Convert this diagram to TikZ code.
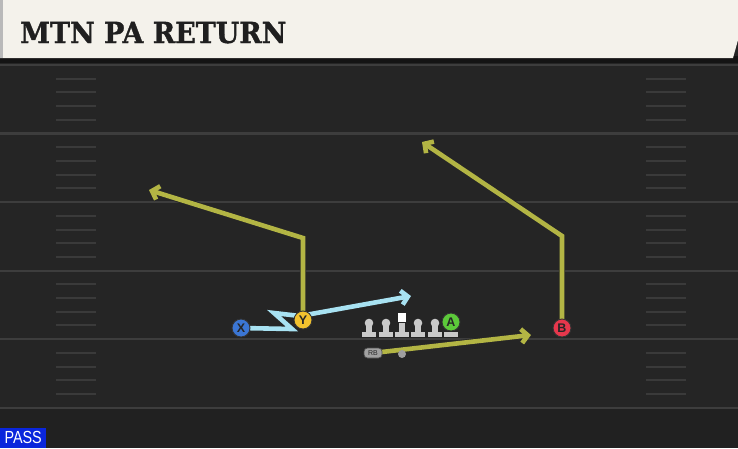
\documentclass[tikz,border=0pt]{standalone}
\usepackage{fontspec}
\setmainfont{Liberation Sans}
\newfontfamily\titlefont[FakeBold=1.2]{DejaVu Serif}
\usetikzlibrary{arrows.meta}
\definecolor{fieldbg}{HTML}{252525}
\definecolor{fieldbot}{HTML}{212121}
\definecolor{headerbg}{HTML}{F4F2EB}
\definecolor{yardc}{HTML}{3D3D3D}
\definecolor{hashc}{HTML}{3A3A3A}
\definecolor{olive}{HTML}{B3B544}
\definecolor{skyc}{HTML}{A8E2F2}
\definecolor{xblue}{HTML}{3B76D4}
\definecolor{yyellow}{HTML}{F2C22E}
\definecolor{bred}{HTML}{E6374C}
\definecolor{agreen}{HTML}{5CC93A}
\definecolor{lgray}{HTML}{C9C9C9}
\definecolor{passblue}{HTML}{0A26DC}
\tikzset{
  yardline/.style={draw=yardc, line width=2.2pt},
  hashline/.style={draw=hashc, line width=2pt},
  routeback/.style={draw=black!85, line width=6.4pt, -{Straight Barb[length=6.5pt,width=14pt]}},
  olivroute/.style={draw=olive, line width=4.6pt, -{Straight Barb[length=6.5pt,width=14pt]}},
  skyroute/.style={draw=skyc, line width=4.6pt, -{Straight Barb[length=6.5pt,width=14pt]}},
  player/.style={circle, draw=black!80, line width=0.9pt, minimum size=18pt, inner sep=0pt,
     font=\bfseries\fontsize{12.5}{12.5}\selectfont, text=black!85},
  rbbox/.style={rounded corners=3.5pt, fill=lgray!80!black, draw=black!70, line width=0.6pt,
     minimum width=18pt, minimum height=10pt, inner sep=0pt, font=\fontsize{7}{7}\selectfont, text=black!85},
  qbdot/.style={circle, fill=gray!75, minimum size=8pt, inner sep=0pt},
  lineman/.pic={
    \fill[lgray] (-7,9) rectangle (7,14);
    \fill[lgray] (-2.8,0) rectangle (2.8,10);
    \fill[lgray] (0,0) circle (4.3);
  },
  centerman/.pic={
    \fill[lgray] (-7,9) rectangle (7,14);
    \fill[lgray] (-2.8,0) rectangle (2.8,10);
    \fill[white] (-4,-10) rectangle (4,-1.5);
  }
}
\begin{document}
\begin{tikzpicture}[x=1pt,y=-1pt]
\useasboundingbox (0,0) rectangle (738,448);
% field
\fill[fieldbg] (0,0) rectangle (738,448);
\fill[fieldbot] (0,409) rectangle (738,448);
\foreach \k in {0,...,5} {
  \draw[yardline] (0,{65+68.55*\k}) -- (738,{65+68.55*\k});
}
\foreach \k in {1,2,3,4,6,7,8,9,11,12,13,14,16,17,18,19,21,22,23,24} {
  \draw[hashline] (56,{65+13.71*\k}) -- (96,{65+13.71*\k});
  \draw[hashline] (646,{65+13.71*\k}) -- (686,{65+13.71*\k});
}
% header
\fill[black!92] (0,56) rectangle (738,63);
\fill[headerbg] (0,0) -- (738,0) -- (738,40) -- (733,58) -- (0,58) -- cycle;
\fill[gray!55] (0,0) rectangle (3,58);
\node[anchor=base west, inner sep=0pt, font=\titlefont\bfseries\fontsize{29}{29}\selectfont,
      text=black!88, xscale=0.93] (title) at (20,43) {MTN PA RETURN};
% positions
\coordinate (pX) at (241,328);
\coordinate (pY) at (303,320);
\coordinate (pB) at (562,328);
\coordinate (pA) at (451,322);
\coordinate (pRB) at (373,353);
\coordinate (yc) at (303,238);
\coordinate (yend) at (149,190);
\coordinate (bc) at (562,236);
\coordinate (bend) at (422,142);
\coordinate (rbend) at (531,335);
\coordinate (x1) at (292,329);
\coordinate (x2) at (274,313);
\coordinate (x3) at (300,316);
\coordinate (xend) at (411,296);
% routes
\draw[routeback] (pY) -- (yc) -- (yend);
\draw[olivroute] (pY) -- (yc) -- (yend);
\draw[routeback] (pB) -- (bc) -- (bend);
\draw[olivroute] (pB) -- (bc) -- (bend);
\draw[routeback] (pRB) -- (rbend);
\draw[olivroute] (pRB) -- (rbend);
\draw[routeback, line width=5.6pt] (pX) -- (x1) -- (x2) -- (x3) -- (xend);
\draw[skyroute] (pX) -- (x1) -- (x2) -- (x3) -- (xend);
% line
\pic at (369,323) {lineman};
\pic at (386,323) {lineman};
\pic at (402,323) {centerman};
\pic at (418,323) {lineman};
\pic at (435,323) {lineman};
\fill[lgray] (444,332) rectangle (458,337);
% players
\node[player, fill=xblue] (X) at (pX) {X};
\node[player, fill=yyellow] (Y) at (pY) {Y};
\node[player, fill=bred] (B) at (pB) {B};
\node[player, fill=agreen] (A) at (pA) {A};
\node[rbbox] (RB) at (pRB) {RB};
\node[qbdot] (QB) at (402,354) {};
% pass label
\node[anchor=south west, fill=passblue, text=white, inner sep=0pt,
      minimum width=46pt, minimum height=20pt, font=\fontsize{17.5}{17.5}\selectfont] (pass) at (0,448)
      {\scalebox{0.82}[1]{PASS}};
\end{tikzpicture}
\end{document}
